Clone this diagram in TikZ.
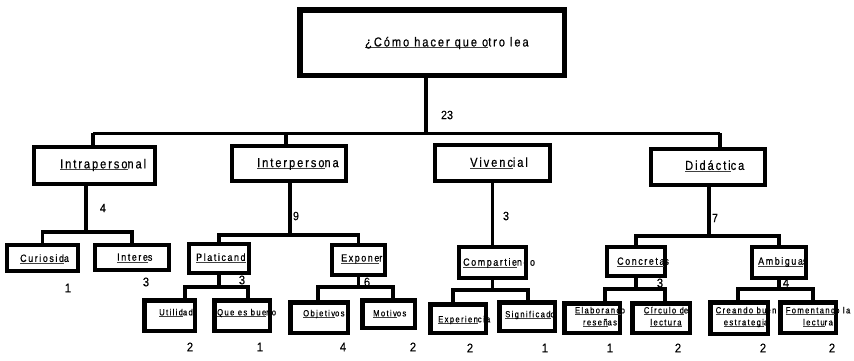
\documentclass[tikz,border=0pt]{standalone}
\usepackage{fontspec}
\setmainfont{Liberation Sans}
\newfontfamily\spfont[LetterSpace=15,FakeStretch=0.85,FakeBold=0.5]{Liberation Sans}
\newfontfamily\numfont[FakeStretch=0.9,FakeBold=0.3]{Liberation Sans}
\usetikzlibrary{positioning}

\newcommand\ulpart[1]{\setbox0=\hbox{#1}\rlap{{\color{black!75}\rule[-1.8pt]{\wd0}{0.8pt}}}\box0}

\begin{document}
\begin{tikzpicture}[
  x=1pt, y=-1pt,
  rootbox/.style = {rectangle, draw, line width=5.5pt, fill=white, inner sep=0pt},
  catbox/.style  = {rectangle, draw, line width=4pt, fill=white, inner sep=0pt},
  subbox/.style  = {rectangle, draw, line width=4pt, fill=white, inner sep=0pt},
  leafbox/.style = {rectangle, draw, line width=4.5pt, fill=white, inner sep=0pt},
  roottxt/.style = {font={\spfont\fontsize{13}{15}\selectfont}, anchor=west, inner sep=0pt},
  cattxt/.style  = {font={\spfont\fontsize{13}{15}\selectfont}, anchor=west, inner sep=0pt},
  subtxt/.style  = {font={\spfont\fontsize{10.5}{13}\selectfont}, anchor=west, inner sep=0pt},
  leaftxt/.style = {font={\spfont\fontsize{9}{12}\selectfont}, align=center, inner sep=0pt},
  num/.style     = {font={\numfont\fontsize{12}{14}\selectfont}, inner sep=0pt},
  bignum/.style  = {font={\numfont\fontsize{12.5}{14}\selectfont}, inner sep=0pt},
  link/.style    = {line width=3.5pt},
  bus/.style     = {line width=3pt},
]
  \useasboundingbox (0,0) rectangle (854,360);

  % boxes
  \node[rootbox, minimum width=264.5pt, minimum height=65.5pt] (root) at (432,42.5) {};

  \node[catbox, minimum width=121pt, minimum height=37pt] (intra) at (94.5,165.5) {};
  \node[catbox, minimum width=114pt, minimum height=35pt] (inter) at (289,163.5) {};
  \node[catbox, minimum width=115pt, minimum height=36pt] (viv)   at (492.5,163) {};
  \node[catbox, minimum width=114pt, minimum height=36pt] (did)   at (708,167) {};

  \node[subbox, minimum width=71pt, minimum height=26pt] (cur)  at (42.5,258) {};
  \node[subbox, minimum width=74pt, minimum height=25pt] (intz) at (132,257.5) {};
  \node[subbox, minimum width=60pt, minimum height=29pt] (plat) at (219,258.5) {};
  \node[subbox, minimum width=53pt, minimum height=30pt] (expo) at (358.5,260) {};
  \node[subbox, minimum width=67pt, minimum height=31pt] (comp) at (492.5,262.5) {};
  \node[subbox, minimum width=58pt, minimum height=29pt] (conc) at (636,261.5) {};
  \node[subbox, minimum width=54pt, minimum height=31pt] (amb)  at (779,262.5) {};

  \node[leafbox, minimum width=50.5pt, minimum height=30.5pt] (util) at (169.5,315.5) {};
  \node[leafbox, minimum width=55.5pt, minimum height=30.5pt] (que)  at (242,315.5) {};
  \node[leafbox, minimum width=57.5pt, minimum height=30.5pt] (obj)  at (319,317.5) {};
  \node[leafbox, minimum width=52.5pt, minimum height=27.5pt] (mot)  at (388.5,314) {};
  \node[leafbox, minimum width=55.5pt, minimum height=28.5pt] (exp)  at (458,318.5) {};
  \node[leafbox, minimum width=55.5pt, minimum height=28.5pt] (sig)  at (527,316.5) {};
  \node[leafbox, minimum width=55.5pt, minimum height=29.5pt] (elab) at (592,318) {};
  \node[leafbox, minimum width=57.5pt, minimum height=29.5pt] (circ) at (661,318) {};
  \node[leafbox, minimum width=57.5pt, minimum height=31.5pt] (crea) at (739,318) {};
  \node[leafbox, minimum width=55.5pt, minimum height=30.5pt] (fom)  at (808,317.5) {};

  % connectors
  \coordinate (hub) at (426,133);
  \coordinate (b1) at (93,133);
  \coordinate (b2) at (286,133);
  \coordinate (b4) at (720,133);
  \draw[link] (root.south -| hub) -- (hub);
  \draw[bus] (b1) -- (b4);
  \draw[link] (b1) -- (intra.north -| b1);
  \draw[link] (b2) -- (inter.north -| b2);
  \draw[link] (b4) -- (did.north -| b4);

  \coordinate (j1) at (86,232);
  \coordinate (j2) at (290,235);
  \coordinate (j4) at (709,236);
  \draw[link] (intra.south -| j1) -- (j1);
  \draw[link] (cur.north) |- (j1) -| (intz.north);
  \draw[link] (inter.south -| j2) -- (j2);
  \draw[link] (plat.north) |- (j2) -| (expo.north);
  \draw[link] (viv.south) -- (comp.north);
  \draw[link] (did.south -| j4) -- (j4);
  \draw[link] (conc.north) |- (j4) -| (amb.north);

  \coordinate (p1) at (185,287);  \coordinate (p2) at (248,287);
  \coordinate (e1) at (318,287);  \coordinate (e2) at (393,287);
  \coordinate (c1) at (453,290);  \coordinate (c2) at (528,290);
  \coordinate (k1) at (605,289);  \coordinate (k2) at (665,289);
  \coordinate (a1) at (738,289);  \coordinate (a2) at (813,289);
  \draw[link] (plat.south) -- (plat.south |- p1);
  \draw[link] (util.north -| p1) -- (p1) -- (p2) -- (que.north -| p2);
  \draw[link] (expo.south) -- (expo.south |- e1);
  \draw[link] (obj.north -| e1) -- (e1) -- (e2) -- (mot.north -| e2);
  \draw[link] (comp.south) -- (comp.south |- c1);
  \draw[link] (exp.north -| c1) -- (c1) -- (c2) -- (sig.north -| c2);
  \draw[link] (conc.south) -- (conc.south |- k1);
  \draw[link] (elab.north -| k1) -- (k1) -- (k2) -- (circ.north -| k2);
  \draw[link] (amb.south) -- (amb.south |- a1);
  \draw[link] (crea.north -| a1) -- (a1) -- (a2) -- (fom.north -| a2);

  % texts
  \node[roottxt] (root-t) at (365,43) {\ulpart{¿Cómo hacer que o}tro lea};

  \node[cattxt] (intra-t) at (60,165)  {\ulpart{Intraperso}nal};
  \node[cattxt] (inter-t) at (257,164) {\ulpart{Interperso}na};
  \node[cattxt] (viv-t)   at (470,163) {\ulpart{Vivenc}ial};
  \node[cattxt] (did-t)   at (685,166) {\ulpart{Didácti}ca};

  \node[subtxt] (cur-t)  at (20,259)  {\ulpart{Curiosid}a};
  \node[subtxt] (intz-t) at (117,258) {\ulpart{Intere}s};
  \node[subtxt] (plat-t) at (196,258) {\ulpart{Platicand}};
  \node[subtxt] (expo-t) at (341,259) {\ulpart{Expone}r};
  \node[subtxt] (comp-t) at (463,263) {\ulpart{Compartie}ndo};
  \node[subtxt] (conc-t) at (617,262) {\ulpart{Concreta}s};
  \node[subtxt] (amb-t)  at (758,262) {\ulpart{Ambigua}s};

  \node[leaftxt, anchor=west] (util-t) at (159,313) {\ulpart{Utilid}ad};
  \node[leaftxt, anchor=west] (que-t)  at (217,313) {\ulpart{Que es bue}no};
  \node[leaftxt, anchor=west] (obj-t)  at (303,314) {\ulpart{Objetiv}os};
  \node[leaftxt, anchor=west] (mot-t)  at (373,314) {\ulpart{Motiv}os};
  \node[leaftxt, anchor=west] (exp-t)  at (438,320) {\ulpart{Experien}cia};
  \node[leaftxt, anchor=west] (sig-t)  at (505,315) {\ulpart{Significad}o};
  \node[leaftxt] (elab-t) at (600,317) {\ulpart{Elaborand}o\\\ulpart{reseñ}as};
  \node[leaftxt] (circ-t) at (666,317) {\ulpart{Círculo d}e\\\ulpart{lectura}};
  \node[leaftxt] (crea-t) at (746,317) {\ulpart{Creando bu}en\\\ulpart{estrategi}a};
  \node[leaftxt] (fom-t)  at (818,317) {\ulpart{Fomentand}o la\\\ulpart{lectu}ra};

  % counts
  \node[num] (n-root) at (447,115) {23};
  \node[num] (n-intra) at (103,208) {4};
  \node[num] (n-inter) at (296,216) {9};
  \node[num] (n-viv)   at (506,216) {3};
  \node[num] (n-did)   at (715,218) {7};
  \node[bignum] (n-cur)  at (68,288)  {1};
  \node[bignum] (n-intz) at (146,282) {3};
  \node[bignum] (n-plat) at (242,280) {3};
  \node[bignum] (n-expo) at (367,282) {6};
  \node[bignum] (n-conc) at (660,283) {3};
  \node[bignum] (n-amb)  at (786,283) {4};
  \node[bignum] (n-util) at (190,347) {2};
  \node[bignum] (n-que)  at (260,347) {1};
  \node[bignum] (n-obj)  at (343,347) {4};
  \node[bignum] (n-mot)  at (413,347) {2};
  \node[bignum] (n-exp)  at (470,348) {2};
  \node[bignum] (n-sig)  at (545,348) {1};
  \node[bignum] (n-elab) at (610,348) {1};
  \node[bignum] (n-circ) at (678,348) {2};
  \node[bignum] (n-crea) at (763,348) {2};
  \node[bignum] (n-fom)  at (832,348) {2};
\end{tikzpicture}
\end{document}
